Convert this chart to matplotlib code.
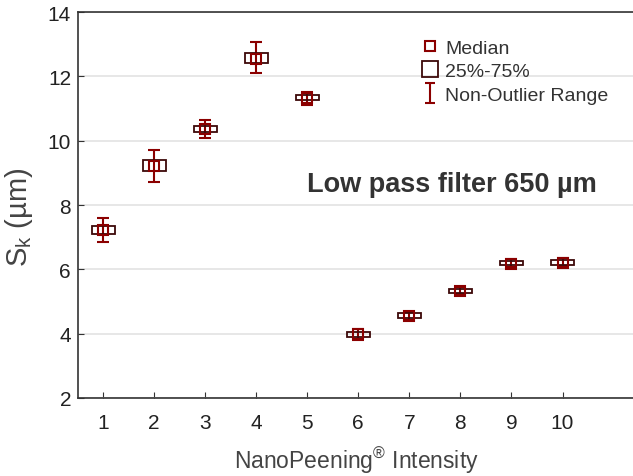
import matplotlib
matplotlib.use('Agg')
from matplotlib import pyplot as plt
from matplotlib.lines import Line2D
from matplotlib.path import Path
import numpy as np

plt.rcParams['font.family'] = ['Liberation Sans', 'DejaVu Sans']

intensity = [1, 2, 3, 4, 5, 6, 7, 8, 9, 10]
median = [7.22, 9.20, 10.36, 12.55, 11.33, 3.98, 4.55, 5.33, 6.18, 6.21]
q25 = [7.09, 9.05, 10.27, 12.43, 11.26, 3.91, 4.48, 5.26, 6.12, 6.14]
q75 = [7.34, 9.39, 10.47, 12.72, 11.42, 4.06, 4.63, 5.40, 6.26, 6.29]
low = [6.85, 8.72, 10.07, 12.11, 11.10, 3.80, 4.42, 5.24, 6.08, 6.10]
high = [7.59, 9.70, 10.63, 13.08, 11.52, 4.16, 4.68, 5.44, 6.32, 6.34]

red = '#8b0000'
dark = '#3d0808'

fig = plt.figure(figsize=(6.33, 4.77), dpi=100)
ax = fig.add_axes([78 / 633, 78 / 477, 556 / 633, 386 / 477])

x = np.array(intensity)
med = np.array(median)
ax.errorbar(x, med, yerr=[med - np.array(low), np.array(high) - med], fmt='none',
            ecolor=red, elinewidth=1.5, capsize=4.2, capthick=1.5, zorder=3)
ax.bar(x, np.array(q75) - np.array(q25), bottom=q25, width=0.45, fill=False,
       edgecolor=dark, linewidth=1.3, zorder=4)
ax.plot(x, med, 's', ms=7.5, mfc='none', mec=red, mew=1.5, zorder=5)

ax.set_xlim(0.51, 11.4)
ax.set_ylim(2, 14)
ax.set_xticks(intensity)
ax.set_yticks(np.arange(2, 15, 2))
ax.grid(axis='y', color='#e3e3e3', linewidth=1.2)
ax.set_axisbelow(True)
ax.tick_params(direction='in', labelsize=15, length=4, colors='#333333', labelcolor='#222222')
ax.tick_params(axis='x', pad=11)
ax.tick_params(axis='y', pad=5)
ax.spines['right'].set_visible(False)
for s in ['left', 'bottom', 'top']:
    ax.spines[s].set_color('#333333')
    ax.spines[s].set_linewidth(1.2)

ax.set_xlabel('NanoPeening$^\\mathregular{®}$ Intensity', fontsize=16.5, color='#444444', labelpad=9)
ax.set_ylabel('S$_\\mathregular{k}$ (µm)', fontsize=21, color='#444444')
ax.yaxis.set_label_coords(-0.078, 0.47)

ax.text(0.412, 0.536, 'Low pass filter 650 µm', transform=ax.transAxes, va='baseline',
        fontsize=19.5, fontweight='bold', color='#333333')

cap_path = Path([(-0.5, -1), (0.5, -1), (0, -1), (0, 1), (-0.5, 1), (0.5, 1)],
                [Path.MOVETO, Path.LINETO, Path.MOVETO, Path.LINETO, Path.MOVETO, Path.LINETO])
handles = [
    Line2D([], [], ls='none', marker='s', ms=7, mfc='none', mec=red, mew=1.5),
    Line2D([], [], ls='none', marker='s', ms=11.5, mfc='none', mec=dark, mew=1.3),
    Line2D([], [], ls='none', marker=cap_path, ms=14, mfc='none', mec=red, mew=1.5),
]
ax.legend(handles, ['Median', '25%-75%', 'Non-Outlier Range'], loc='upper left',
          bbox_to_anchor=(0.608, 0.94), frameon=False, fontsize=14, handlelength=1.0,
          handletextpad=0.3, labelspacing=0.31, borderpad=0.2, borderaxespad=0,
          labelcolor='#333333')

fig.savefig('out.png', dpi=100)
